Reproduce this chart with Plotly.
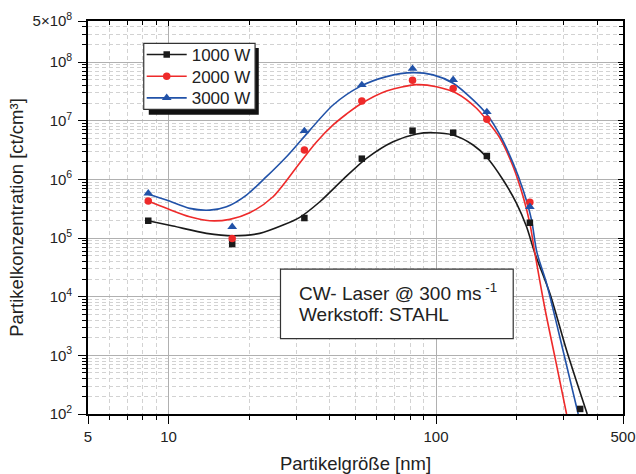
import math
import plotly.graph_objects as go

# ---- measured data points ----
size_nm = [8.4, 17.3, 32.2, 52.8, 81.7, 115.9, 154.9, 224.3, 345.9]
conc_1000 = [1.97e5, 7.87e4, 2.19e5, 2.25e6, 6.75e6, 6.24e6, 2.50e6, 1.82e5, 1.22e2]
conc_2000 = [4.27e5, 9.84e4, 3.16e6, 2.17e7, 4.89e7, 3.52e7, 1.06e7, 4.05e5]
conc_3000 = [5.77e5, 1.55e5, 6.67e6, 4.06e7, 7.71e7, 4.96e7, 1.41e7, 3.41e5]

# ---- fit curves ----
fit_x_1000 = [8.38, 10.39, 13.86, 17.43, 21.93, 26.81, 30.95, 36.78, 44.94, 54.97, 69.1,
              84.6, 97.5, 115.9, 137.6, 154.5, 178.2, 200.0, 218.0, 234.2, 266.5, 307.6, 367.4]
fit_y_1000 = [1.97e5, 1.60e5, 1.20e5, 1.09e5, 1.20e5, 1.66e5, 2.25e5, 4.15e5, 1.0e6, 2.28e6, 4.38e6,
              5.93e6, 6.24e6, 5.70e6, 3.85e6, 2.40e6, 9.73e5, 3.89e5, 1.55e5, 5.46e4, 1.13e4, 1.22e3, 1.0e2]

fit_x_2000 = [8.38, 9.82, 12.00, 14.26, 16.94, 20.12, 24.59, 30.95, 35.74, 41.23, 46.28, 51.9, 65.3, 84.6,
              100.4, 119.3, 141.7, 154.5, 173.3, 194.3, 211.7, 224.3, 234.2, 255.3, 278.2, 307.6]
fit_y_2000 = [4.26e5, 3.20e5, 2.30e5, 1.97e5, 2.08e5, 2.69e5, 5.05e5, 1.90e6, 4.33e6, 8.45e6, 1.30e7, 1.89e7, 3.21e7, 4.11e7,
              3.80e7, 2.94e7, 1.63e7, 1.03e7, 5.07e6, 1.64e6, 5.05e5, 1.77e5, 5.52e4, 6.29e3, 9.39e2, 1.0e2]

fit_x_3000 = [8.38, 9.82, 12.00, 14.26, 16.47, 19.56, 23.23, 27.60, 31.36, 41.23, 51.9, 65.3, 82.1,
              97.5, 115.9, 137.6, 154.5, 173.3, 194.3, 211.7, 227.6, 238.2, 259.0, 286.2, 340.0]
fit_y_3000 = [5.55e5, 4.44e5, 3.20e5, 2.99e5, 3.41e5, 5.40e5, 1.11e6, 2.43e6, 4.68e6, 1.85e7, 3.80e7, 5.63e7, 6.59e7,
              6.03e7, 4.35e7, 2.26e7, 1.30e7, 5.70e6, 1.87e6, 6.57e5, 2.02e5, 5.75e4, 1.68e4, 2.68e3, 1.0e2]

series_names = ["1000 W", "2000 W", "3000 W"]
series_colors = ["#1a1a1a", "#ee2a2a", "#2152a8"]
series_symbols = ["square", "circle", "triangle-up"]
series_sizes = [6.5, 7.5, 8.5]

x_tickvals = [5, 10, 100, 500]
x_ticktext = ["5", "10", "100", "500"]
y_tickvals = [1e2, 1e3, 1e4, 1e5, 1e6, 1e7, 1e8, 5e8]
y_ticktext = ["10<sup>2</sup>", "10<sup>3</sup>", "10<sup>4</sup>", "10<sup>5</sup>",
              "10<sup>6</sup>", "10<sup>7</sup>", "10<sup>8</sup>", "5×10<sup>8</sup>"]

x_minor = [k * 10 ** n for n in range(0, 3) for k in range(2, 10)
           if 5 < k * 10 ** n < 500 and k * 10 ** n not in x_tickvals]
y_minor = [k * 10 ** n for n in range(2, 9) for k in range(2, 10) if k * 10 ** n < 5e8]

x_range = [math.log10(5), math.log10(500)]
y_range = [2, math.log10(5e8)]

point_sets = [conc_1000, conc_2000, conc_3000]
fit_sets = [(fit_x_1000, fit_y_1000), (fit_x_2000, fit_y_2000), (fit_x_3000, fit_y_3000)]
legend_ids = ["legend", "legend2", "legend3"]
legend_rows = [0.9135, 0.8583, 0.8033]

fig = go.Figure()
for i in range(3):
    fx, fy = fit_sets[i]
    fig.add_trace(go.Scatter(x=fx, y=fy, mode="lines", line=dict(color=series_colors[i], width=1.6, shape="spline", smoothing=0.8),
                             showlegend=False, hoverinfo="skip"))
for i in range(3):
    ys = point_sets[i]
    fig.add_trace(go.Scatter(x=size_nm[:len(ys)], y=ys, mode="markers",
                             marker=dict(symbol=series_symbols[i], color=series_colors[i], size=series_sizes[i], line=dict(width=0)),
                             showlegend=False, cliponaxis=False))
# legend entries
for i in range(3):
    fig.add_trace(go.Scatter(x=[None], y=[None], mode="lines+markers", name=series_names[i],
                             line=dict(color=series_colors[i], width=1.6),
                             marker=dict(symbol=series_symbols[i], color=series_colors[i], size=series_sizes[i]),
                             xaxis="x2", yaxis="y2", legend=legend_ids[i]))

txt = "#222222"
major_grid = "#b0b0b0"
minor_grid = "#d2d2d2"

legend_common = dict(x=0.1004, xanchor="left", yanchor="middle", bgcolor="rgba(0,0,0,0)", borderwidth=0,
                     font=dict(size=17, color=txt), itemwidth=40, tracegroupgap=0)

fig.update_layout(
    width=636, height=474,
    margin=dict(l=88, r=13, t=21, b=60, autoexpand=False),
    paper_bgcolor="white", plot_bgcolor="white",
    font=dict(family="Liberation Sans, Arial, sans-serif", color=txt),
    xaxis=dict(type="log", range=x_range, tickmode="array", tickvals=x_tickvals, ticktext=x_ticktext,
               ticks="outside", ticklen=8, tickwidth=1.3, tickcolor="black", automargin=False,
               showline=True, linecolor="black", linewidth=1.6, mirror=False,
               showgrid=True, gridcolor=major_grid, gridwidth=1.4, zeroline=False,
               minor=dict(tickmode="array", tickvals=x_minor, ticks="outside", ticklen=4, tickwidth=1.1, tickcolor="black",
                          showgrid=True, gridcolor=minor_grid, griddash="4px,3px", gridwidth=1),
               tickfont=dict(size=15, color=txt),
               title=dict(text="Partikelgröße [nm]", font=dict(size=18.5, color=txt), standoff=15)),
    yaxis=dict(type="log", range=y_range, tickmode="array", tickvals=y_tickvals, ticktext=y_ticktext,
               ticks="outside", ticklen=8, tickwidth=1.3, tickcolor="black", automargin=False,
               showline=True, linecolor="black", linewidth=1.6, mirror=False, ticklabelstandoff=3,
               showgrid=True, gridcolor=major_grid, gridwidth=1.4, zeroline=False,
               minor=dict(tickmode="array", tickvals=y_minor, ticks="outside", ticklen=4, tickwidth=1.1, tickcolor="black",
                          showgrid=True, gridcolor=minor_grid, griddash="4px,3px", gridwidth=1),
               tickfont=dict(size=15, color=txt),
               title=dict(text="Partikelkonzentration [ct/cm³]", font=dict(size=18.5, color=txt), standoff=4)),
    xaxis2=dict(type="log", range=x_range, overlaying="x", side="top", anchor="y", automargin=False,
                tickmode="array", tickvals=x_tickvals, ticks="inside", ticklen=5, tickwidth=1.2, tickcolor="black",
                showticklabels=False, showline=True, linecolor="black", linewidth=1.6, showgrid=False, zeroline=False,
                minor=dict(tickmode="array", tickvals=x_minor, ticks="inside", ticklen=4, tickwidth=1.1, tickcolor="black", showgrid=False)),
    yaxis2=dict(type="log", range=y_range, overlaying="y", side="right", anchor="x", automargin=False,
                tickmode="array", tickvals=y_tickvals, ticks="inside", ticklen=5, tickwidth=1.2, tickcolor="black",
                showticklabels=False, showline=True, linecolor="black", linewidth=1.6, showgrid=False, zeroline=False,
                minor=dict(tickmode="array", tickvals=y_minor, ticks="inside", ticklen=4, tickwidth=1.1, tickcolor="black", showgrid=False)),
    legend=dict(y=legend_rows[0], **legend_common),
    legend2=dict(y=legend_rows[1], **legend_common),
    legend3=dict(y=legend_rows[2], **legend_common),
    shapes=[
        dict(type="rect", xref="paper", yref="paper", x0=0.1136, x1=0.3192, y0=0.7614, y1=0.9312,
             fillcolor="#111111", line=dict(width=0), layer="above"),
        dict(type="rect", xref="paper", yref="paper", x0=0.1042, x1=0.3123, y0=0.7752, y1=0.9432,
             fillcolor="white", line=dict(color="#333333", width=1.2), layer="above"),
        dict(type="rect", xref="paper", yref="paper", x0=0.3598, x1=0.7948, y0=0.192, y1=0.3685,
             fillcolor="white", line=dict(color="#333333", width=1.2), layer="above"),
    ],
    annotations=[
        dict(xref="paper", yref="paper", x=0.3898, y=0.3099, xanchor="left", yanchor="middle", showarrow=False,
             text="CW- Laser @ 300 ms<sup> -1</sup>", font=dict(size=19, color=txt)),
        dict(xref="paper", yref="paper", x=0.3898, y=0.2537, xanchor="left", yanchor="middle", showarrow=False,
             text="Werkstoff: STAHL", font=dict(size=19, color=txt)),
    ],
)

fig.write_html("out.html", config={"displayModeBar": False},
               post_script="document.body.style.margin='0px';")
